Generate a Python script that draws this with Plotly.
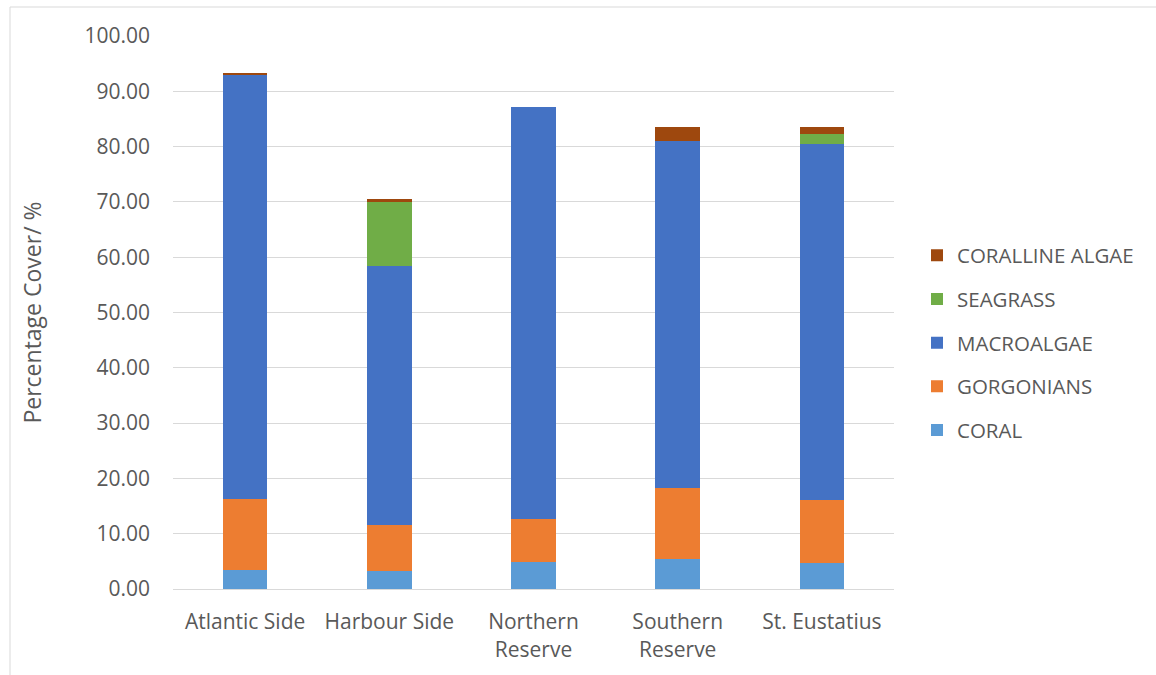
import plotly.graph_objects as go

categories = ["Atlantic Side", "Harbour Side", "Northern<br>Reserve", "Southern<br>Reserve", "St. Eustatius"]
coral = [3.5, 3.3, 4.8, 5.4, 4.65]
gorgonians = [12.8, 8.3, 7.8, 12.8, 11.45]
macroalgae = [76.7, 46.9, 74.6, 62.8, 64.3]
seagrass = [0.0, 11.4, 0.0, 0.0, 1.8]
coralline_algae = [0.2, 0.7, 0.0, 2.6, 1.4]

series = [
    ("CORAL", coral, "#5b9bd5"),
    ("GORGONIANS", gorgonians, "#ed7d31"),
    ("MACROALGAE", macroalgae, "#4472c4"),
    ("SEAGRASS", seagrass, "#70ad47"),
    ("CORALLINE ALGAE", coralline_algae, "#9e480e"),
]

FONT = "Open Sans"
TXT = "#595959"

fig = go.Figure()
n = len(series)
for i, (name, vals, col) in enumerate(series):
    fig.add_trace(go.Bar(
        x=categories, y=vals, name=name, legendgroup=name,
        legendrank=n - i,
        marker=dict(color=col, line=dict(width=0)),
    ))

L, R, T, B = 173, 262, 36, 86
W, H = 1156, 675
pw = W - L - R
ph = H - T - B

fig.update_layout(
    width=W, height=H,
    barmode="stack", bargap=0.69,
    plot_bgcolor="white", paper_bgcolor="white",
    margin=dict(l=L, r=R, t=T, b=B, pad=0, autoexpand=False),
    font=dict(family=FONT, color=TXT, size=20),
    legend=dict(
        traceorder="grouped", tracegroupgap=14,
        x=(917 - L) / pw, y=(H - B - 343) / ph, xanchor="left", yanchor="middle",
        font=dict(size=20.5, color=TXT, family=FONT),
        itemwidth=30,
    ),
    yaxis=dict(
        range=[0, 100], dtick=10, tickformat=".2f",
        showgrid=True, gridcolor="#d9d9d9", gridwidth=1,
        zeroline=False, showline=False, ticks="",
        ticklabelstandoff=22,
        tickfont=dict(size=21, color=TXT, family=FONT),
        title=dict(text="Percentage Cover/ %", font=dict(size=23, color=TXT, family=FONT), standoff=36),
    ),
    xaxis=dict(
        showgrid=False, showline=True, linecolor="#d9d9d9", linewidth=1,
        ticks="", ticklabelstandoff=14,
        tickfont=dict(size=21, color=TXT, family=FONT),
    ),
    shapes=[dict(
        type="rect", xref="paper", yref="paper",
        x0=(10 - L) / pw, x1=(1170 - L) / pw,
        y0=(H - B - 690) / ph, y1=(H - B - 7) / ph,
        line=dict(color="#d9d9d9", width=1), fillcolor="rgba(0,0,0,0)", layer="below",
    )],
)

fig.write_html(
    "out.html",
    config={"displayModeBar": False},
    post_script="document.body.style.margin='0';document.body.style.padding='0';",
)
